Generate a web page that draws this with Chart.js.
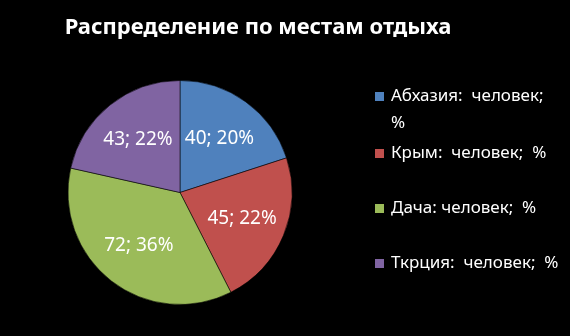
<!DOCTYPE html>
<html>
<head>
<meta charset="utf-8">
<script src="https://cdn.jsdelivr.net/npm/chart.js@4/dist/chart.umd.min.js"></script>
<style>
  html, body { margin: 0; padding: 0; background: #000; }
  #wrap { width: 570px; height: 336px; }
</style>
</head>
<body>
<div id="wrap"><canvas id="c" width="570" height="336"></canvas></div>
<script>
// Places of rest: number of people and share
const categories = ['Абхазия', 'Крым', 'Дача', 'Ткрция'];
const people = [40, 45, 72, 43];
const percents = [20, 22, 36, 22];
const legendLines = [
  ['Абхазия:  человек;', '%'],
  ['Крым:  человек;  %'],
  ['Дача: человек;  %'],
  ['Ткрция:  человек;  %']
];
const titleText = 'Распределение по местам отдыха';
const colors = ['#4F81BD', '#C0504D', '#9BBB59', '#8064A2'];

const FONT = '"Noto Sans", "DejaVu Sans", sans-serif';

// Heading centred over the whole canvas
const heading = {
  id: 'heading',
  afterDraw(chart) {
    const ctx = chart.ctx;
    ctx.save();
    ctx.fillStyle = '#ffffff';
    ctx.font = 'bold 22px ' + FONT;
    ctx.textAlign = 'center';
    ctx.textBaseline = 'middle';
    ctx.fillText(titleText, 258, 28);
    ctx.restore();
  }
};

// "value; percent" labels inside each slice
const sliceLabels = {
  id: 'sliceLabels',
  afterDatasetsDraw(chart) {
    const ctx = chart.ctx;
    const meta = chart.getDatasetMeta(0);
    ctx.save();
    ctx.fillStyle = '#ffffff';
    ctx.font = '19px ' + FONT;
    ctx.textAlign = 'center';
    ctx.textBaseline = 'middle';
    meta.data.forEach((arc, i) => {
      const p = arc.getProps(['x', 'y', 'startAngle', 'endAngle', 'outerRadius'], true);
      const mid = (p.startAngle + p.endAngle) / 2;
      const r = p.outerRadius * 0.6;
      ctx.fillText(people[i] + '; ' + percents[i] + '%', p.x + Math.cos(mid) * r, p.y + Math.sin(mid) * r);
    });
    ctx.restore();
  }
};

// Legend on the right with wrapped entries
const sideLegend = {
  id: 'sideLegend',
  afterDraw(chart) {
    const ctx = chart.ctx;
    const x0 = 375, rowY = [96, 153, 208, 263], lineH = 27;
    ctx.save();
    ctx.font = '17px ' + FONT;
    ctx.textBaseline = 'middle';
    ctx.textAlign = 'left';
    categories.forEach((c, i) => {
      const y = rowY[i];
      ctx.fillStyle = colors[i];
      ctx.fillRect(x0, y - 4, 9, 9);
      ctx.fillStyle = '#ffffff';
      legendLines[i].forEach((t, k) => ctx.fillText(t, x0 + 16, y + k * lineH));
    });
    ctx.restore();
  }
};

new Chart(document.getElementById('c'), {
  type: 'pie',
  data: {
    labels: categories,
    datasets: [{
      data: people,
      backgroundColor: colors,
      borderColor: 'rgba(0,0,0,0.55)',
      borderWidth: 1
    }]
  },
  options: {
    responsive: false,
    animation: false,
    layout: { padding: { left: 67, right: 277, top: 80, bottom: 31 } },
    plugins: {
      legend: { display: false },
      tooltip: { enabled: false },
      title: { display: false }
    }
  },
  plugins: [heading, sliceLabels, sideLegend]
});
</script>
</body>
</html>
